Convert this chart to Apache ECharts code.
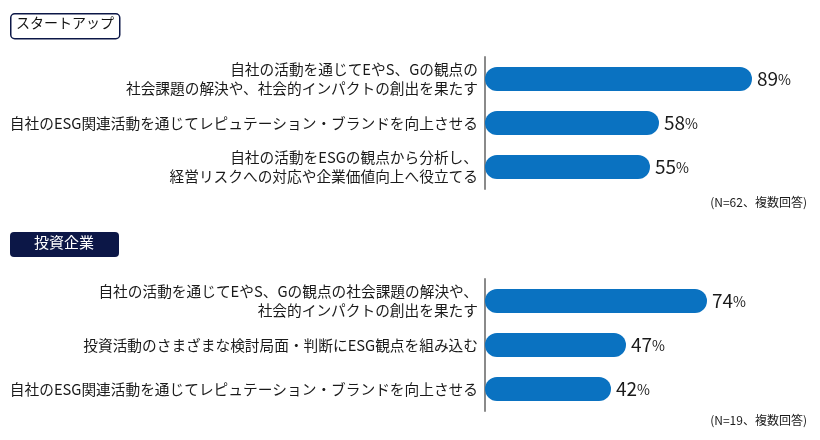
<!DOCTYPE html>
<html>
<head>
<meta charset="utf-8">
<script src="https://cdn.jsdelivr.net/npm/echarts@6/dist/echarts.min.js"></script>
<style>
html,body{margin:0;padding:0;background:#fff;}
#c{width:820px;height:440px;}
</style>
</head>
<body>
<div id="c"></div>
<script>
const groupTitles = ['スタートアップ', '投資企業'];
const categoriesStartup = [
  '自社の活動を通じてEやS、Gの観点の\n社会課題の解決や、社会的インパクトの創出を果たす',
  '自社のESG関連活動を通じてレピュテーション・ブランドを向上させる',
  '自社の活動をESGの観点から分析し、\n経営リスクへの対応や企業価値向上へ役立てる'
];
const valuesStartup = [89, 58, 55];
const categoriesInvestor = [
  '自社の活動を通じてEやS、Gの観点の社会課題の解決や、\n社会的インパクトの創出を果たす',
  '投資活動のさまざまな検討局面・判断にESG観点を組み込む',
  '自社のESG関連活動を通じてレピュテーション・ブランドを向上させる'
];
const valuesInvestor = [74, 47, 42];
const notes = ['(N=62、複数回答)', '(N=19、複数回答)'];

const FONT = '"Noto Sans CJK JP", "Noto Sans", sans-serif';
const BAR = '#0a72c1';
const NAVY = '#0c1747';

const chart = echarts.init(document.getElementById('c'), null, {renderer: 'canvas'});

function yAxisFor(idx, cats) {
  return {
    type: 'category', gridIndex: idx, data: cats, inverse: true,
    axisLine: {show: true, lineStyle: {color: '#8a8a8a', width: 2}},
    axisTick: {show: false},
    axisLabel: {
      fontFamily: FONT, fontSize: 14.7, color: '#1a1a1a', lineHeight: 19, margin: 7, align: 'right'
    }
  };
}
function xAxisFor(idx) {
  return {
    type: 'value', gridIndex: idx, min: 0, max: 100,
    show: false, splitLine: {show: false}
  };
}
function seriesFor(idx, vals) {
  return {
    type: 'bar', xAxisIndex: idx, yAxisIndex: idx, data: vals,
    barWidth: 24,
    itemStyle: {color: BAR, borderRadius: 12},
    label: {
      show: true, position: 'right', distance: 5,
      formatter: p => '{n|' + p.value + '}{p|%}',
      rich: {
        n: {fontFamily: FONT, fontSize: 19, color: '#1a1a1a'},
        p: {fontFamily: FONT, fontSize: 14, color: '#1a1a1a', padding: [2, 0, 0, 0]}
      }
    },
    silent: true
  };
}

chart.setOption({
  animation: false,
  backgroundColor: '#fff',
  grid: [
    {left: 485, width: 300, top: 57, height: 132, containLabel: false, outerBoundsMode: 'none'},
    {left: 485, width: 300, top: 279, height: 132, containLabel: false, outerBoundsMode: 'none'}
  ],
  xAxis: [xAxisFor(0), xAxisFor(1)],
  yAxis: [yAxisFor(0, categoriesStartup), yAxisFor(1, categoriesInvestor)],
  series: [seriesFor(0, valuesStartup), seriesFor(1, valuesInvestor)],
  title: [
    {text: notes[0], right: 13, top: 196, textStyle: {fontFamily: FONT, fontSize: 12, fontWeight: 'normal', color: '#1a1a1a'}, padding: 0},
    {text: notes[1], right: 13, top: 414, textStyle: {fontFamily: FONT, fontSize: 12, fontWeight: 'normal', color: '#1a1a1a'}, padding: 0}
  ],
  graphic: [
    {type: 'rect', left: 10, top: 13, shape: {width: 109, height: 25, r: 4},
     style: {fill: '#fff', stroke: NAVY, lineWidth: 1.5}},
    {type: 'text', left: 16, top: 16, style: {text: groupTitles[0], font: '14px ' + FONT, fill: '#111'}},
    {type: 'rect', left: 10, top: 232, shape: {width: 109, height: 25, r: 4},
     style: {fill: NAVY}},
    {type: 'text', left: 34, top: 235, style: {text: groupTitles[1], font: '15px ' + FONT, fill: '#fff'}}
  ]
});
</script>
</body>
</html>
